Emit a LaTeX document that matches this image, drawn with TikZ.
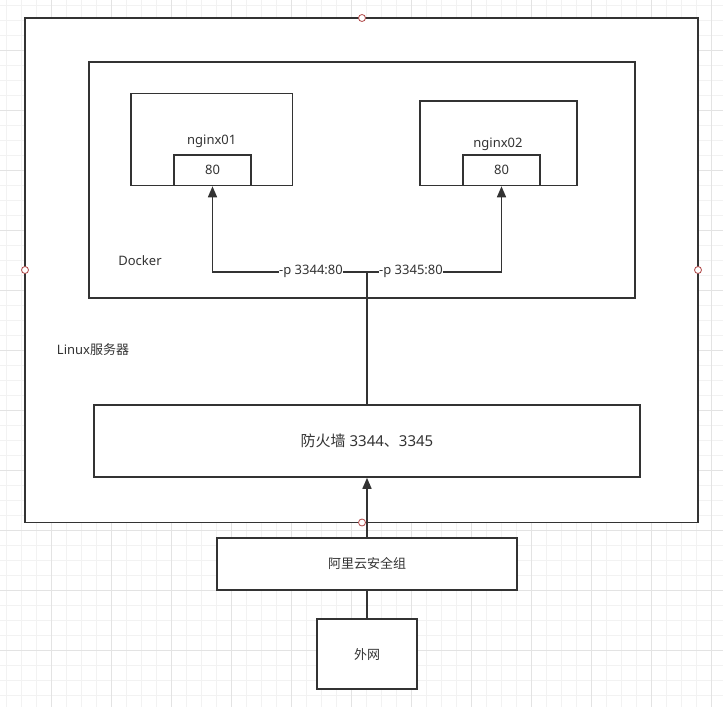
\documentclass[tikz,border=0pt]{standalone}
\usepackage{fontspec}
\setmainfont{Noto Sans}
\newfontfamily\cjk{Noto Sans CJK SC}
\usetikzlibrary{arrows.meta}
\definecolor{ink}{HTML}{333333}
\definecolor{txt}{HTML}{333333}
\definecolor{gridminor}{HTML}{F2F2F2}
\definecolor{gridmajor}{HTML}{E3E3E3}
\definecolor{handle}{HTML}{B04848}
\tikzset{
  box/.style={draw=ink, line width=1.6pt, fill=white, rectangle, inner sep=0pt},
  lbl/.style={text=txt, font=\fontsize{13}{15}\selectfont, inner sep=1pt},
  conn/.style={draw=ink, line width=1.6pt},
  arr/.style={conn, -{Triangle[length=11pt,width=9pt]}},
  handlept/.style={circle, draw=handle, fill=white, line width=0.8pt, minimum size=7pt, inner sep=0pt},
  minorline/.style={draw=gridminor, line width=0.8pt},
  majorline/.style={draw=gridmajor, line width=0.8pt}
}
\begin{document}
\begin{tikzpicture}[x=1pt, y=-1pt]
\useasboundingbox (0,0) rectangle (723,707);
\fill[white] (0,0) rectangle (723,707);
% grid
\foreach \i in {0,...,48} {\pgfmathsetmacro\xx{6.7+15*\i}\draw[minorline] (\xx,0) -- (\xx,707);}
\foreach \i in {0,...,47} {\pgfmathsetmacro\yy{5.7+15*\i}\draw[minorline] (0,\yy) -- (723,\yy);}
\foreach \i in {0,...,11} {\pgfmathsetmacro\xx{51.7+60*\i}\draw[majorline] (\xx,0) -- (\xx,707);}
\foreach \i in {0,...,11} {\pgfmathsetmacro\yy{50.7+60*\i}\draw[majorline] (0,\yy) -- (723,\yy);}
% boxes
\node[box, minimum width=673pt, minimum height=504.5pt] (linux) at (361.5,270.25) {};
\node[box, minimum width=546pt, minimum height=236pt] (docker) at (362,180) {};
\node[box, minimum width=161.5pt, minimum height=92pt] (nginxA) at (211.75,139.5) {};
\node[box, minimum width=77pt, minimum height=30.5pt] (portA) at (212.5,170.25) {};
\node[box, minimum width=157pt, minimum height=84.5pt] (nginxB) at (498.5,143.25) {};
\node[box, minimum width=77pt, minimum height=30.5pt] (portB) at (501.5,170.25) {};
\node[box, minimum width=546pt, minimum height=72pt] (fw) at (367,441) {};
\node[box, minimum width=300pt, minimum height=52pt] (aliyun) at (367,564) {};
\node[box, minimum width=100pt, minimum height=70pt] (wan) at (367,654) {};
% texts
\node[lbl] (tA) at (211.7,141.5) {nginx01};
\node[lbl] (pA) at (212.5,170) {80};
\node[lbl] (tB) at (498,144) {nginx02};
\node[lbl] (pB) at (501.5,170) {80};
\node[lbl] (tDocker) at (140,260.5) {Docker};
\node[lbl] (tLinux) at (93,350) {Linux{\cjk 服务器}};
\node[lbl, font=\fontsize{15}{17}\selectfont] (tfw) at (367,441) {{\cjk 防火墙} 3344{\cjk 、}3345};
\node[lbl] (tali) at (367,564) {\cjk 阿里云安全组};
\node[lbl] (twan) at (367,655) {\cjk 外网};
% connectors
\coordinate (junc) at (367,271.7);
\coordinate (cA) at (212.5,271.7);
\coordinate (cB) at (501.5,271.7);
\draw[arr] (fw.north) -- (junc) -- (cA) -- (portA.south);
\draw[arr] (fw.north) -- (junc) -- (cB) -- (portB.south);
\node[lbl, fill=white, inner sep=0.5pt] (lA) at (311,271.7) {-p 3344:80};
\node[lbl, fill=white, inner sep=0.5pt] (lB) at (411,271.7) {-p 3345:80};
\draw[arr] (aliyun.north) -- (fw.south);
\draw[conn] (wan.north) -- (aliyun.south);
% selection handles
\node[handlept] (h1) at (362,18) {};
\node[handlept] (h2) at (25,270) {};
\node[handlept] (h3) at (698,270) {};
\node[handlept] (h4) at (362,522.5) {};
\end{tikzpicture}
\end{document}
